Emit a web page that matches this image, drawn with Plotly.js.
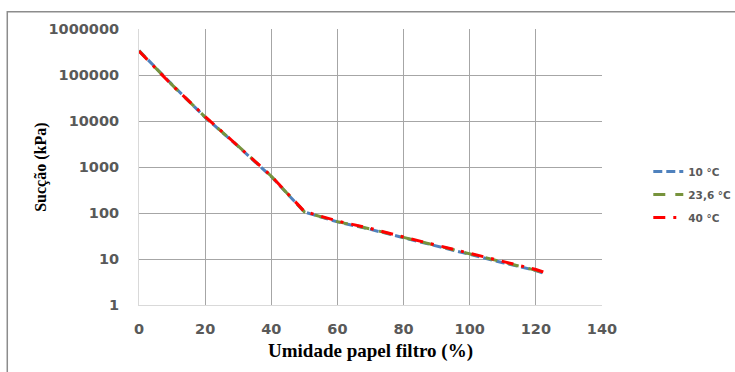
<!DOCTYPE html>
<html>
<head>
<meta charset="utf-8">
<script src="https://cdn.plot.ly/plotly-3.0.1.min.js"></script>
<style>html,body{margin:0;padding:0;background:#fff;}#chart{width:735px;height:372px;}</style>
</head>
<body>
<div id="chart"></div>
<script>
// Data
const umidade = [0, 10, 20, 30, 40, 45, 50, 60, 70, 80, 90, 100, 110, 120, 123];
const succao10 = [340000, 62000, 12000, 2800, 620, 250, 105, 64, 44, 29, 19, 12.5, 8.3, 5.6, 4.7];
const succao236 = [335000, 61000, 12200, 2850, 630, 255, 106, 65, 45, 29.5, 19.5, 12.7, 8.4, 5.7, 4.8];
const succao40 = [330000, 60000, 12500, 2900, 640, 262, 108, 67, 46, 30, 20, 13, 8.6, 5.9, 5.0];
const seriesNames = ['10 °C', '23,6 °C', '40 °C'];
const yTickVals = [1, 10, 100, 1000, 10000, 100000, 1000000];
const yTickText = ['1', '10', '100', '1000', '10000', '100000', '1000000'];
const xTickVals = [0, 20, 40, 60, 80, 100, 120, 140];
const xTitle = 'Umidade papel filtro (%)';
const yTitle = 'Sucção (kPa)';

const tickFont = {family: '"DejaVu Sans", sans-serif', size: 14.5, color: '#595959', weight: 'bold'};
const titleFamily = '"Liberation Serif", "Times New Roman", serif';

const traces = [
  {x: umidade, y: succao10, name: seriesNames[0], legendgroup: 'a', mode: 'lines',
   line: {color: '#4F81BD', width: 3, dash: '9px,4px'}},
  {x: umidade, y: succao236, name: seriesNames[1], legendgroup: 'b', mode: 'lines',
   line: {color: '#77933C', width: 3, dash: '12px,10px'}},
  {x: umidade, y: succao40, name: seriesNames[2], legendgroup: 'c', mode: 'lines',
   line: {color: '#FF0000', width: 3, dash: '12px,8px,3px,8px'}}
];

const layout = {
  width: 735, height: 372,
  margin: {l: 139, r: 133, t: 29, b: 67, pad: 0, autoexpand: false},
  paper_bgcolor: '#fff', plot_bgcolor: '#fff',
  showlegend: true,
  legend: {x: 1.1, y: 0.40, xanchor: 'left', yanchor: 'middle',
           traceorder: 'grouped', tracegroupgap: 4,
           font: {family: '"DejaVu Sans", sans-serif', size: 10.5, color: '#595959', weight: 'bold'},
           bgcolor: 'rgba(0,0,0,0)'},
  xaxis: {
    range: [0, 140], tickvals: xTickVals, ticktext: xTickVals.map(String),
    showgrid: true, gridcolor: '#A6A6A6', gridwidth: 1,
    showline: true, linecolor: '#D9D9D9', linewidth: 1,
    zeroline: false, ticks: '', ticklen: 0, ticklabelstandoff: 11,
    tickfont: tickFont, automargin: true,
    title: {text: xTitle, standoff: 7,
            font: {family: titleFamily, size: 19, color: '#000', weight: 'bold'}}
  },
  yaxis: {
    type: 'log', range: [0, 6], tickvals: yTickVals, ticktext: yTickText,
    showgrid: true, gridcolor: '#A6A6A6', gridwidth: 1,
    showline: true, linecolor: '#D9D9D9', linewidth: 1,
    zeroline: false, ticks: '', ticklen: 0, ticklabelstandoff: 16,
    tickfont: tickFont, automargin: false
  },
  annotations: [{text: yTitle, textangle: -90, showarrow: false,
                 xref: 'paper', yref: 'paper', x: -0.212, y: 0.5,
                 xanchor: 'center', yanchor: 'middle',
                 font: {family: titleFamily, size: 16, color: '#000', weight: 'bold'}}],
  shapes: [{type: 'rect', xref: 'paper', yref: 'paper',
            x0: -0.2845, x1: 1.4, y0: -0.3, y1: 1.0627,
            line: {color: '#8C8C8C', width: 1.5}, fillcolor: 'rgba(0,0,0,0)', layer: 'below'}]
};

Plotly.newPlot('chart', traces, layout, {displayModeBar: false, staticPlot: true});
</script>
</body>
</html>
